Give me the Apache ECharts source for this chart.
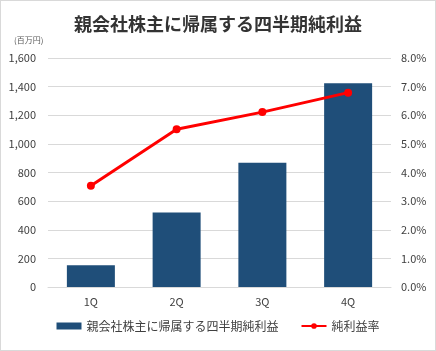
<!DOCTYPE html>
<html>
<head>
<meta charset="utf-8">
<script src="https://cdn.jsdelivr.net/npm/echarts@6/dist/echarts.min.js"></script>
<style>
  html, body { margin: 0; padding: 0; background: #fff; }
  #chart { width: 436px; height: 351px; box-sizing: border-box; border: 1px solid #d9d9d9; }
</style>
</head>
<body>
<div id="chart"></div>
<script>
const categories = ['1Q', '2Q', '3Q', '4Q'];
const netIncome = [152, 520, 868, 1423];
const netMargin = [3.54, 5.51, 6.11, 6.79];
const barName = '親会社株主に帰属する四半期純利益';
const lineName = '純利益率';

const font = '"Noto Sans CJK JP", "Noto Sans", sans-serif';
const chart = echarts.init(document.getElementById('chart'));
chart.setOption({
  animation: false,
  textStyle: { fontFamily: font },
  title: {
    text: barName,
    left: 'center',
    top: 9,
    textStyle: { fontSize: 18, fontWeight: 'bold', color: '#333', fontFamily: font },
  },
  graphic: [{
    type: 'text',
    left: 13,
    top: 35,
    style: { text: '(百万円)', fontSize: 8, fill: '#595959', fontFamily: font },
  }],
  legend: {
    bottom: 13,
    left: 'center',
    itemGap: 22,
    itemWidth: 25,
    itemHeight: 7,
    textStyle: { fontSize: 12, color: '#404040', fontFamily: font },
    data: [
      { name: barName, icon: 'rect' },
      { name: lineName },
    ],
  },
  grid: { left: 47, right: 44, top: 57, bottom: 63 },
  xAxis: {
    type: 'category',
    data: categories,
    axisTick: { show: false },
    axisLine: { lineStyle: { color: '#d9d9d9' } },
    axisLabel: { color: '#404040', fontSize: 11, margin: 9 },
  },
  yAxis: [
    {
      type: 'value',
      min: 0,
      max: 1600,
      interval: 200,
      axisLabel: {
        color: '#404040',
        fontSize: 11,
        margin: 12,
        formatter: v => v.toLocaleString('en-US'),
      },
      splitLine: { lineStyle: { color: '#d9d9d9' } },
    },
    {
      type: 'value',
      min: 0,
      max: 8,
      interval: 1,
      axisLabel: {
        color: '#404040',
        fontSize: 11,
        margin: 10,
        formatter: v => v.toFixed(1) + '%',
      },
      splitLine: { show: false },
    },
  ],
  series: [
    {
      name: barName,
      type: 'bar',
      data: netIncome,
      barWidth: 48,
      itemStyle: { color: '#1f4e79' },
    },
    {
      name: lineName,
      type: 'line',
      yAxisIndex: 1,
      data: netMargin,
      symbol: 'circle',
      symbolSize: 8,
      lineStyle: { color: '#ff0000', width: 3 },
      itemStyle: { color: '#ff0000' },
    },
  ],
});
</script>
</body>
</html>
